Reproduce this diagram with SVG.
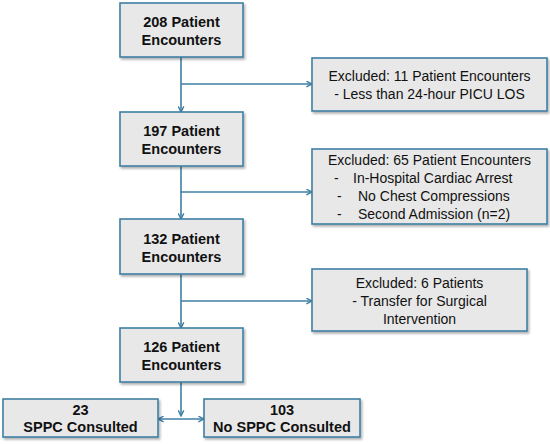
<svg xmlns="http://www.w3.org/2000/svg" width="550" height="444" viewBox="0 0 550 444">
<defs>
<marker id="arr" viewBox="0 0 10 10" refX="9" refY="5" markerWidth="7" markerHeight="7" markerUnits="userSpaceOnUse" orient="auto-start-reverse">
<path d="M1,1 L9,5 L1,9" fill="none" stroke="#3f7fa3" stroke-width="2"/>
</marker>
<filter id="sh" x="-10%" y="-10%" width="130%" height="140%">
<feDropShadow dx="1.5" dy="2" stdDeviation="1.2" flood-color="#000" flood-opacity="0.3"/>
</filter>
</defs>
<style>
.box{fill:#e8e8e8;stroke:#3f7fa3;stroke-width:1.6;filter:url(#sh)}
.b{font-family:"Liberation Sans",Arial,sans-serif;font-weight:bold;font-size:14.5px;fill:#111;text-anchor:middle}
.r{font-family:"Liberation Sans",Arial,sans-serif;font-size:14px;fill:#111;text-anchor:middle}
.rs{font-family:"Liberation Sans",Arial,sans-serif;font-size:14px;fill:#111}
.c{fill:none;stroke:#3f7fa3;stroke-width:1.6}
</style>
<rect width="550" height="444" fill="#fff"/>
<g id="connectors">
<line class="c" x1="181" y1="57" x2="181" y2="112" marker-end="url(#arr)"/>
<line class="c" x1="181" y1="84" x2="312" y2="84" marker-end="url(#arr)"/>
<line class="c" x1="181" y1="166" x2="181" y2="219" marker-end="url(#arr)"/>
<line class="c" x1="181" y1="192" x2="312" y2="192" marker-end="url(#arr)"/>
<line class="c" x1="181" y1="274" x2="181" y2="328" marker-end="url(#arr)"/>
<line class="c" x1="181" y1="301" x2="312" y2="301" marker-end="url(#arr)"/>
<line class="c" x1="181" y1="382" x2="181" y2="416" marker-end="url(#arr)"/>
<line class="c" x1="158" y1="419" x2="204" y2="419" marker-start="url(#arr)" marker-end="url(#arr)"/>
</g>
<g id="n208">
<rect class="box" x="120" y="3" width="123" height="54"/>
<text class="b" x="181.5" y="27">208 Patient</text>
<text class="b" x="181.5" y="45">Encounters</text>
</g>
<g id="ex11">
<rect class="box" x="312" y="58" width="235" height="53"/>
<text class="r" x="429.5" y="81">Excluded: 11 Patient Encounters</text>
<text class="r" x="429.5" y="99">- Less than 24-hour  PICU LOS</text>
</g>
<g id="n197">
<rect class="box" x="120" y="112" width="123" height="54"/>
<text class="b" x="181.5" y="136">197 Patient</text>
<text class="b" x="181.5" y="154">Encounters</text>
</g>
<g id="ex65">
<rect class="box" x="312" y="149" width="235" height="75"/>
<text class="r" x="429.5" y="165">Excluded: 65 Patient Encounters</text>
<text class="rs" x="334" y="183">-</text>
<text class="rs" x="353" y="183">In-Hospital Cardiac Arrest</text>
<text class="rs" x="337" y="201">-</text>
<text class="rs" x="358" y="201">No Chest Compressions</text>
<text class="rs" x="337" y="219">-</text>
<text class="rs" x="358" y="219">Second Admission (n=2)</text>
</g>
<g id="n132">
<rect class="box" x="120" y="219" width="123" height="55"/>
<text class="b" x="181.5" y="244">132 Patient</text>
<text class="b" x="181.5" y="262">Encounters</text>
</g>
<g id="ex6">
<rect class="box" x="312" y="269" width="215" height="62"/>
<text class="r" x="419.5" y="288">Excluded: 6 Patients</text>
<text class="r" x="419.5" y="306">- Transfer for Surgical</text>
<text class="r" x="419.5" y="324">Intervention</text>
</g>
<g id="n126">
<rect class="box" x="120" y="328" width="123" height="54"/>
<text class="b" x="181.5" y="352">126 Patient</text>
<text class="b" x="181.5" y="370">Encounters</text>
</g>
<g id="n23">
<rect class="box" x="3" y="399" width="155" height="38"/>
<text class="b" x="80.5" y="415">23</text>
<text class="b" x="80.5" y="432">SPPC Consulted</text>
</g>
<g id="n103">
<rect class="box" x="204" y="399" width="156" height="38"/>
<text class="b" x="282" y="415">103</text>
<text class="b" x="282" y="432">No SPPC Consulted</text>
</g>
</svg>
